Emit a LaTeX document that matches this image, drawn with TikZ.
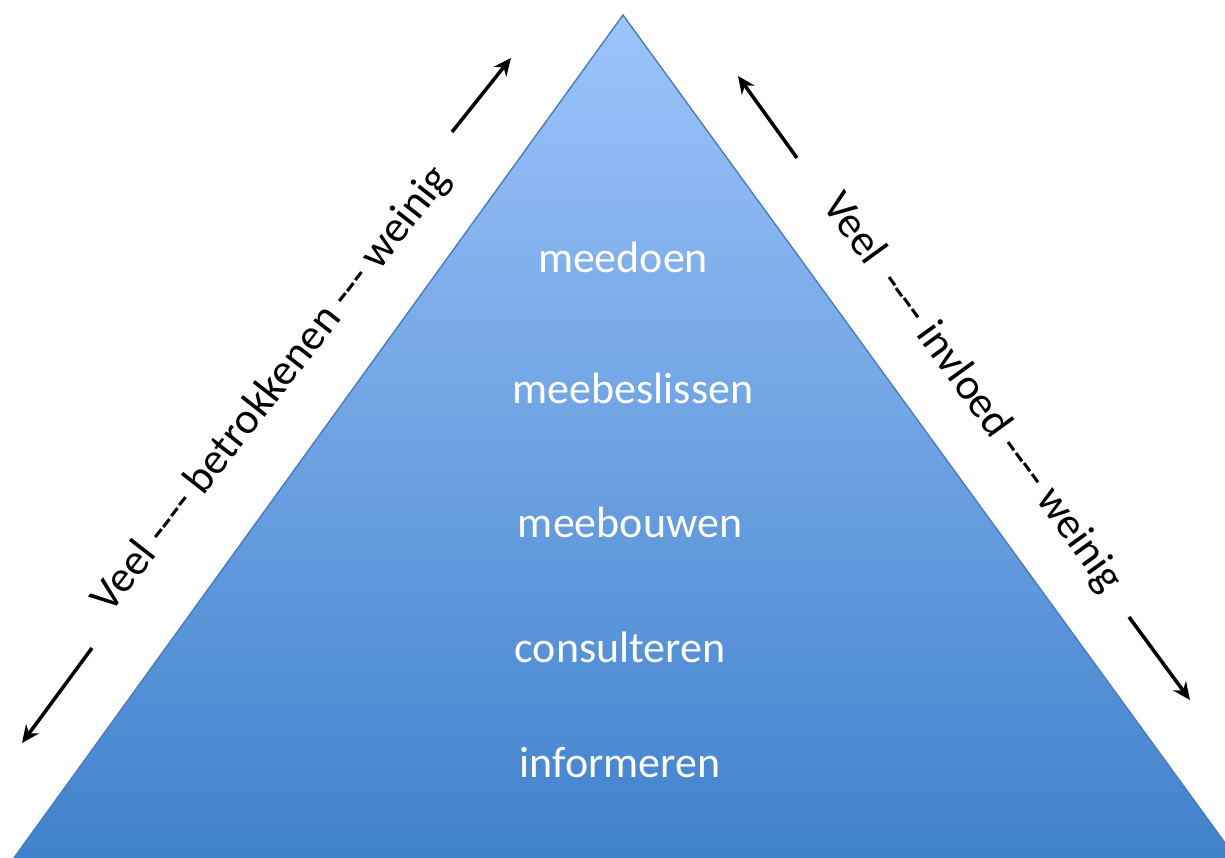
\documentclass[tikz,border=0pt]{standalone}
\usepackage{fontspec}
\setmainfont{Carlito}
\newfontfamily\sidefont{Carlito}[Ligatures=TeXOff]
\usetikzlibrary{arrows.meta}
\definecolor{toptri}{RGB}{156,196,250}
\definecolor{bottri}{RGB}{62,128,203}
\definecolor{edgetri}{RGB}{74,124,190}
\tikzset{
  level/.style={text=white, font=\fontsize{25}{30}\selectfont, inner sep=0pt},
  side/.style={text=black, font=\sidefont\fontsize{25}{30}\selectfont, inner sep=0pt},
  dirarrow/.style={line width=2pt, -{Stealth[length=10pt,width=9pt]}}
}
\begin{document}
\begin{tikzpicture}[x=0.02cm,y=-0.02cm]
\useasboundingbox (0,0) rectangle (1225,858);
\clip (0,0) rectangle (1225,858);
\coordinate (apex) at (623,15);
\coordinate (bl) at (-2,880);
\coordinate (br) at (1252,880);
\shade[top color=toptri, bottom color=bottri, draw=edgetri, line width=0.8pt]
  (apex) -- (br) -- (bl) -- cycle;
\node[level] (l1) at (623,257) {meedoen};
\node[level] (l2) at (633,388) {meebeslissen};
\node[level] (l3) at (630,522) {meebouwen};
\node[level] (l4) at (620,647) {consulteren};
\node[level] (l5) at (620,763) {informeren};
\node[side, rotate=52] (lt) at (272,390) {Veel ---- betrokkenen --- weinig};
\node[side, rotate=-54] (rt) at (972,393) {Veel\ \ ---- invloed ---- weinig};
\coordinate (a1s) at (92,648);  \coordinate (a1e) at (22,743);
\coordinate (a2s) at (452,132); \coordinate (a2e) at (511,58);
\coordinate (a3s) at (797,158); \coordinate (a3e) at (738,76);
\coordinate (a4s) at (1129,617); \coordinate (a4e) at (1190,700);
\draw[dirarrow] (a1s) -- (a1e);
\draw[dirarrow] (a2s) -- (a2e);
\draw[dirarrow] (a3s) -- (a3e);
\draw[dirarrow] (a4s) -- (a4e);
\end{tikzpicture}
\end{document}
